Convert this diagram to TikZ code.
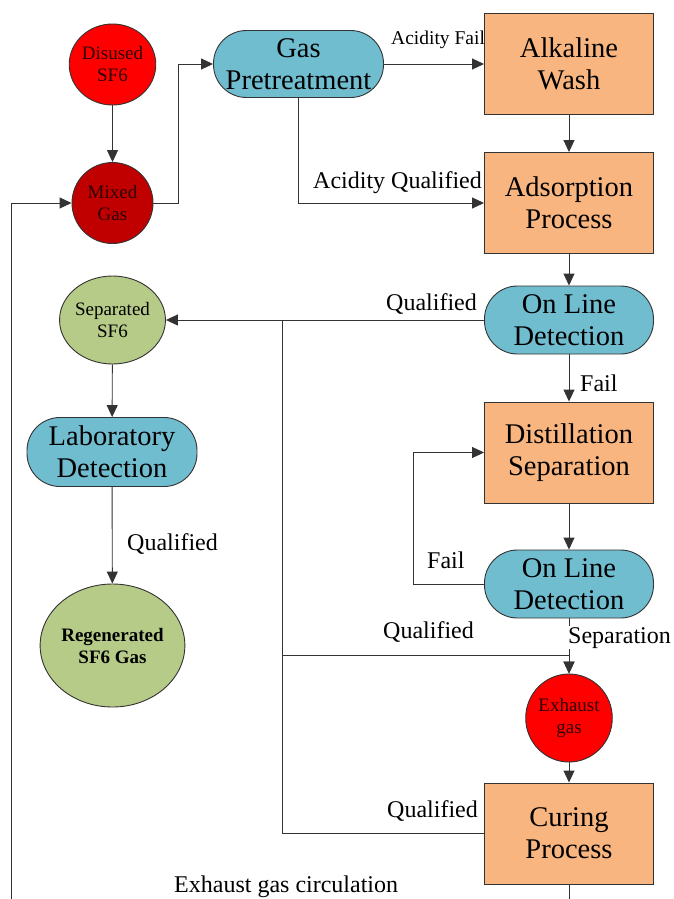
\documentclass[tikz,border=0pt]{standalone}
\usepackage{fontspec}
\setmainfont{Liberation Serif}
\usetikzlibrary{arrows.meta,shapes.geometric}
\definecolor{cblue}{RGB}{113,189,208}
\definecolor{corange}{RGB}{248,181,127}
\definecolor{cgreen}{RGB}{182,203,136}
\definecolor{cred}{RGB}{255,0,0}
\definecolor{cdred}{RGB}{192,0,0}
\definecolor{ctext}{RGB}{45,0,0}
\begin{document}
\begin{tikzpicture}[x=1pt,y=-1pt,
  conn/.style={draw=black!80, line width=0.9pt},
  arr/.style={conn,-{Triangle[length=12pt,width=11pt]}},
  big/.style={font=\fontsize{28.5}{32}\selectfont, align=center, text=black},
  box/.style={big, rectangle, draw=black!80, line width=0.9pt, fill=corange, minimum width=169pt, minimum height=101pt, inner sep=0pt},
  stad/.style={big, rectangle, rounded corners=33pt, draw=black!80, line width=0.9pt, fill=cblue, minimum width=169pt, minimum height=68pt, inner sep=0pt},
  circ/.style={ellipse, draw=black!80, line width=0.9pt, inner sep=0pt, align=center, text=ctext, font=\fontsize{19}{22}\selectfont},
  lbl/.style={font=\fontsize{24}{28}\selectfont, inner sep=0pt, anchor=base west}
]
\useasboundingbox (0,0) rectangle (674,899);

% nodes
\node[circ, fill=cred, minimum width=81pt, minimum height=81pt] (dis) at (112.5,64.5) {Disused\\SF6};
\node[circ, fill=cdred, minimum width=81pt, minimum height=81pt] (mix) at (112.5,203) {Mixed\\Gas};
\node[stad, minimum width=170pt, minimum height=67pt] (gp) at (298.5,64) {Gas\\Pretreatment};
\node[box] (aw) at (569,64) {Alkaline\\Wash};
\node[box] (ap) at (569,203) {Adsorption\\Process};
\node[stad] (ol1) at (569,320) {On Line\\Detection};
\node[box] (ds) at (569,452.5) {Distillation\\Separation};
\node[stad] (ol2) at (569,584) {On Line\\Detection};
\node[circ, fill=cred, minimum width=84pt, minimum height=88pt] (ex) at (569,718) {Exhaust\\gas};
\node[box] (cp) at (569,833.5) {Curing\\Process};
\node[circ, fill=cgreen, text=black, minimum width=89pt, minimum height=88pt] (sep) at (112.5,320) {Separated\\SF6};
\node[stad, minimum width=170pt, minimum height=69pt] (lab) at (112,452) {Laboratory\\Detection};
\node[circ, fill=cgreen, text=black, minimum width=123pt, minimum height=123pt, font=\fontsize{19}{22}\selectfont\bfseries] (reg) at (112.5,645.5) {Regenerated\\SF6 Gas};

% junction coordinates
\coordinate (j1) at (282,320);
\coordinate (j2) at (282,655);
\coordinate (bl) at (11,899);
\coordinate (br) at (569,899);

% connectors
\draw[arr] (dis) -- (mix);
\draw[arr] (mix.east) -- ++(25,0) |- (gp.west);
\draw[arr] (gp.east) -- (aw.west);
\draw[arr] (gp.south) |- (ap.west);
\draw[arr] (aw) -- (ap);
\draw[arr] (ap) -- (ol1);
\draw[arr] (ol1.west) -- (sep.east);
\draw[conn] (cp.west) -| (j1);
\draw[arr] (j2) -| (ex.north);
\draw[arr] (ol1) -- (ds);
\draw[arr] (ds) -- (ol2);
\draw[arr] (ol2.west) -- (413,584) |- (ds.west);
\draw[arr] (ol2.south) -- (ex.north);
\draw[arr] (ex) -- (cp);
\draw[conn] (cp.south) -- (br);
\draw[arr] (bl) |- (mix.west);
\draw[arr] (sep) -- (lab);
\draw[arr] (lab) -- (reg);

% labels
\node[lbl, font=\fontsize{19.5}{22}\selectfont] (l1) at (391,45) {Acidity Fail};
\node[lbl] (l2) at (313,188) {Acidity Qualified};
\node[lbl] (l3) at (386,310) {Qualified};
\node[lbl] (l4) at (580,391) {Fail};
\node[lbl] (l5) at (427,568) {Fail};
\node[lbl] (l6) at (383,638) {Qualified};
\node[lbl, fill=white, inner sep=1pt] (l7) at (567,643) {Separation};
\node[lbl] (l8) at (387,817) {Qualified};
\node[lbl] (l9) at (127,550) {Qualified};
\node[lbl] (l10) at (174,892) {Exhaust gas circulation};
\end{tikzpicture}
\end{document}
